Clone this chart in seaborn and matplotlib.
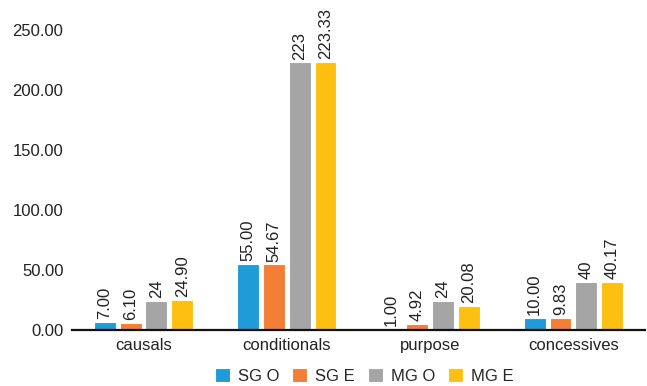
import matplotlib
matplotlib.use('Agg')
import matplotlib.pyplot as plt
import seaborn as sns
import pandas as pd

categories = ['causals', 'conditionals', 'purpose', 'concessives']
series = ['SG O', 'SG E', 'MG O', 'MG E']
sg_o = [7.00, 55.00, 1.00, 10.00]
sg_e = [6.10, 54.67, 4.92, 9.83]
mg_o = [24, 223, 24, 40]
mg_e = [24.90, 223.33, 20.08, 40.17]
labels = [
    ['7.00', '55.00', '1.00', '10.00'],
    ['6.10', '54.67', '4.92', '9.83'],
    ['24', '223', '24', '40'],
    ['24.90', '223.33', '20.08', '40.17'],
]
colors = ['#1f9bd7', '#f37e36', '#a5a5a5', '#fdc010']

rows = []
for s, vals in zip(series, [sg_o, sg_e, mg_o, mg_e]):
    for c, v in zip(categories, vals):
        rows.append({'category': c, 'series': s, 'value': v})
df = pd.DataFrame(rows)

sns.set_style('white')
plt.rcParams['font.family'] = ['Liberation Sans', 'DejaVu Sans']

fig = plt.figure(figsize=(6.47, 3.86), dpi=100)
ax = fig.add_axes([0.111, 0.145, 0.886, 0.777])
sns.barplot(data=df, x='category', y='value', hue='series', palette=colors,
            saturation=1, width=0.72, gap=0.15, edgecolor='white', linewidth=0.8,
            errorbar=None, ax=ax)

for cont, labs in zip(ax.containers, labels):
    ax.bar_label(cont, labels=labs, rotation=90, padding=2, fontsize=12, color='#222222')

ax.set_ylim(0, 250)
ax.set_xlim(-0.5, 3.5)
ax.set_yticks([0, 50, 100, 150, 200, 250])
ax.set_yticklabels(['0.00', '50.00', '100.00', '150.00', '200.00', '250.00'])
ax.set_xlabel('')
ax.set_ylabel('')
ax.tick_params(axis='both', length=0, labelsize=12, colors='#222222')
ax.tick_params(axis='y', pad=6)
ax.tick_params(axis='x', pad=6)
for side in ['top', 'right', 'left']:
    ax.spines[side].set_visible(False)
ax.spines['bottom'].set_color('#111111')
ax.spines['bottom'].set_linewidth(1.6)

ax.legend(loc='center', bbox_to_anchor=(0.51, -0.153), ncol=4, frameon=False,
          fontsize=12, handlelength=0.9, handleheight=0.9, handletextpad=0.5,
          columnspacing=0.75, borderaxespad=0, borderpad=0)

fig.savefig('out.png', dpi=100)
